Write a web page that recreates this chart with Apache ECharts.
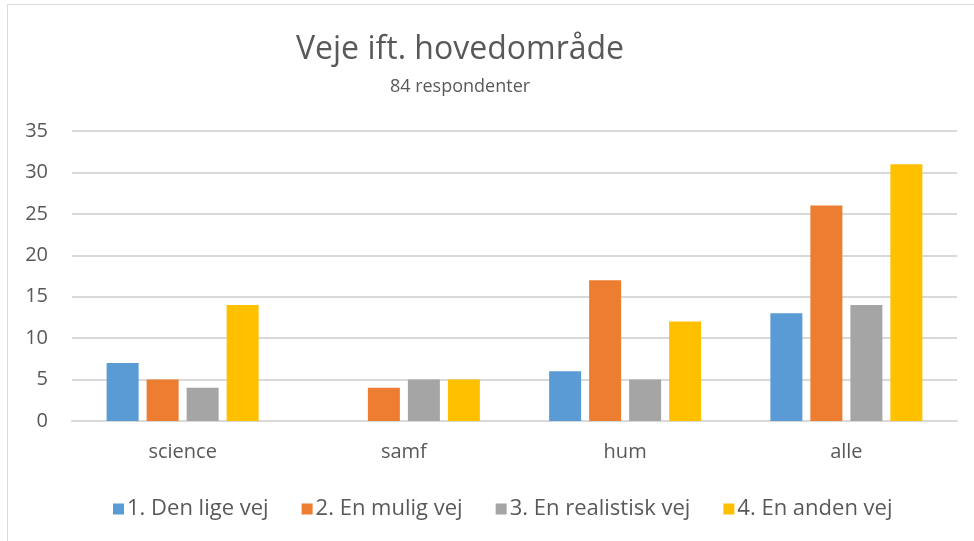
<!DOCTYPE html>
<html>
<head>
<meta charset="utf-8">
<script src="https://cdn.jsdelivr.net/npm/echarts@6/dist/echarts.min.js"></script>
<style>
  html, body { margin: 0; padding: 0; background: #fff; }
  #frame { position: absolute; left: 7px; top: 4px; width: 980px; height: 560px; border-left: 1px solid #d9d9d9; border-top: 1px solid #d9d9d9; }
  #chart { position: absolute; left: 0; top: 0; width: 974px; height: 541px; }
</style>
</head>
<body>
<div id="frame"></div>
<div id="chart"></div>
<script>
let categories = ['science', 'samf', 'hum', 'alle'];
let seriesNames = ['1. Den lige vej', '2. En mulig vej', '3. En realistisk vej', '4. En anden vej'];
let lige = [7, 0, 6, 13];
let mulig = [5, 4, 17, 26];
let realistisk = [4, 5, 5, 14];
let anden = [14, 5, 12, 31];
let colors = ['#5b9bd5', '#ed7d31', '#a5a5a5', '#ffc000'];

let font = '"Open Sans", sans-serif';
let chart = echarts.init(document.getElementById('chart'));
let values = [lige, mulig, realistisk, anden];

chart.setOption({
  color: colors,
  title: {
    text: 'Veje ift. hovedområde',
    subtext: '84 respondenter',
    left: 455,
    textAlign: 'center',
    top: 29,
    itemGap: 12,
    textStyle: { fontFamily: font, fontSize: 32, fontWeight: 'normal', color: '#595959' },
    subtextStyle: { fontFamily: font, fontSize: 18, color: '#595959' }
  },
  legend: {
    top: 493,
    left: 108,
    itemWidth: 11,
    itemHeight: 11,
    itemGap: 33,
    icon: 'rect',
    textStyle: { fontFamily: font, fontSize: 22, color: '#595959', padding: [0, 0, 0, -2] },
    data: seriesNames
  },
  grid: { left: 72, right: 17, top: 131, bottom: 120 },
  xAxis: {
    type: 'category',
    data: categories,
    axisLine: { lineStyle: { color: '#d9d9d9', width: 2 } },
    axisTick: { show: false },
    axisLabel: { fontFamily: font, fontSize: 20, color: '#595959', margin: 21 }
  },
  yAxis: {
    type: 'value',
    min: 0,
    max: 35,
    interval: 5,
    axisLine: { show: false },
    axisTick: { show: false },
    splitLine: { lineStyle: { color: '#d9d9d9', width: 2 } },
    axisLabel: { fontFamily: font, fontSize: 20, color: '#595959', margin: 24 }
  },
  series: seriesNames.map(function(name, i) {
    return {
      name: name,
      type: 'bar',
      data: values[i],
      barWidth: 32,
      barGap: '25%'
    };
  })
});
</script>
</body>
</html>
